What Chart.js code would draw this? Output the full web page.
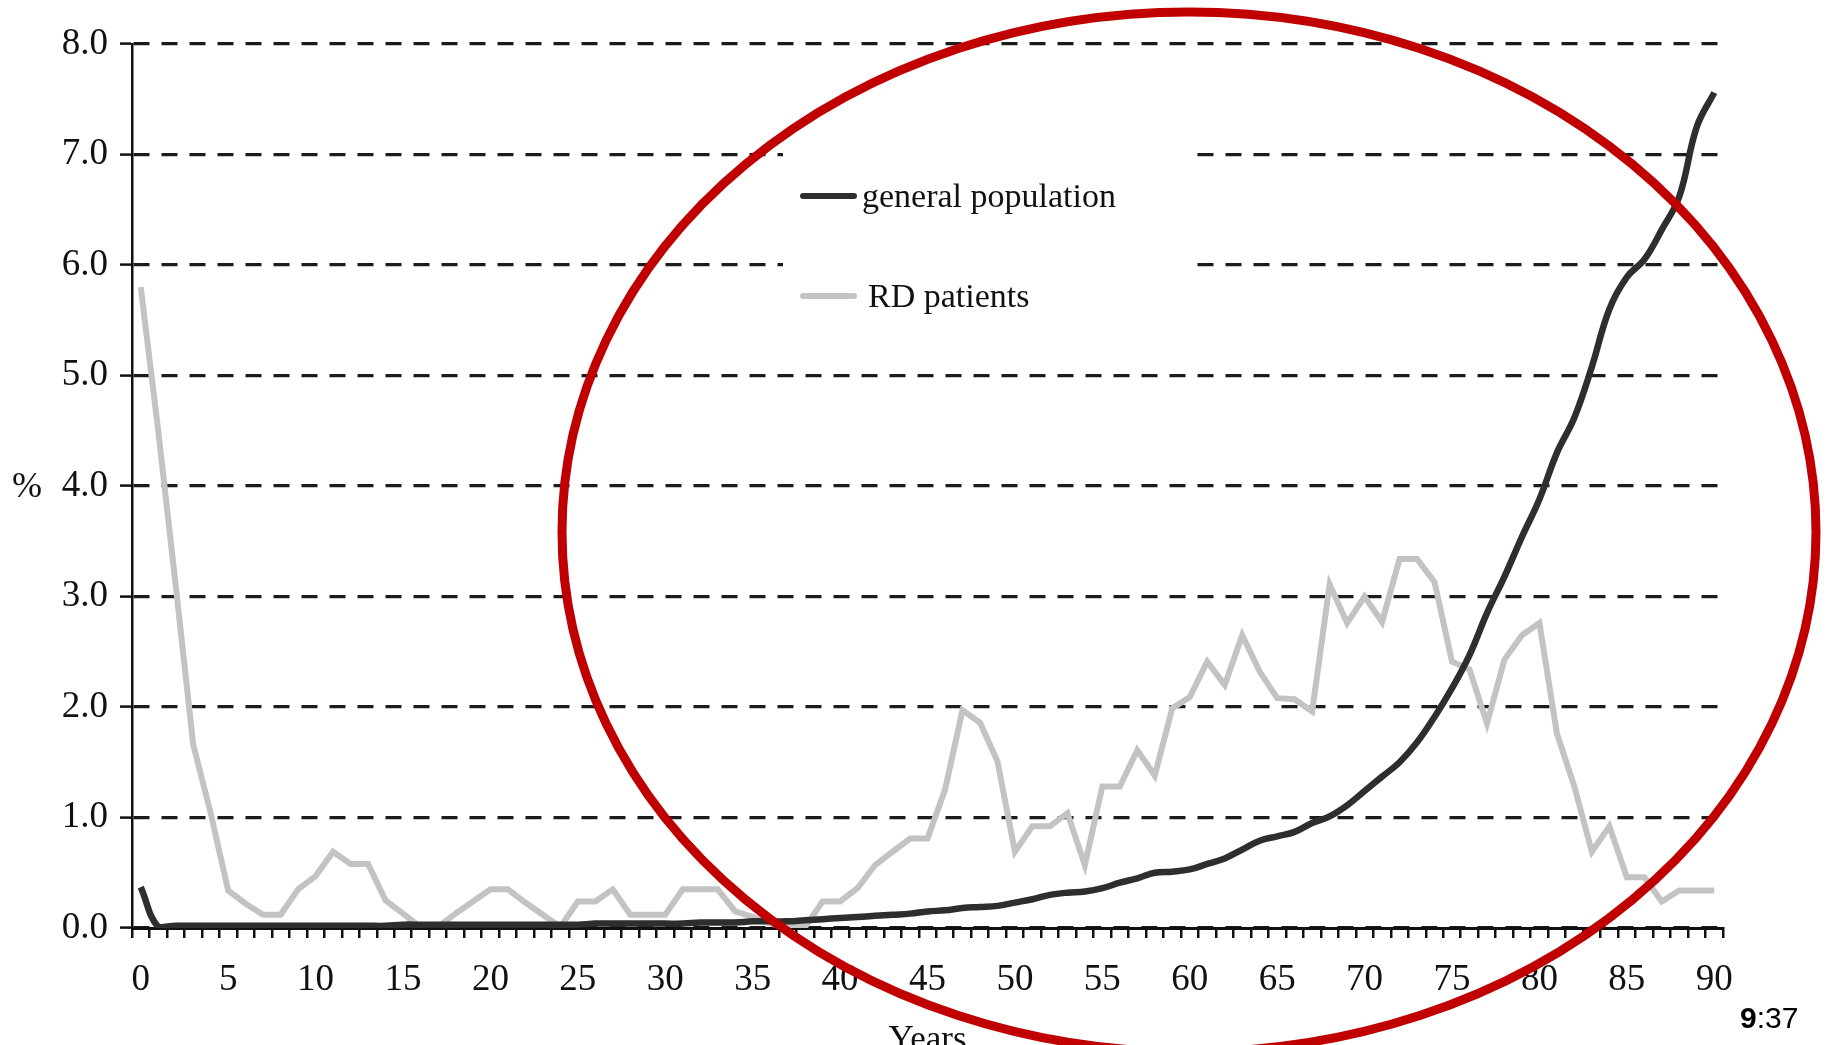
<!DOCTYPE html>
<html>
<head>
<meta charset="utf-8">
<script src="https://cdn.jsdelivr.net/npm/chart.js@4.4.0/dist/chart.umd.min.js"></script>
<style>
  html, body { margin: 0; padding: 0; background: #fff; overflow: hidden; }
  #wrap { width: 1831px; height: 1070px; }
</style>
</head>
<body>
<div id="wrap"><canvas id="myChart" width="1831" height="1070"></canvas></div>
<script>
// age in years
const years = [
  0, 1, 2, 3, 4, 5, 6, 7, 8, 9, 10, 11, 12, 13, 14, 15, 16, 17, 18, 19,
  20, 21, 22, 23, 24, 25, 26, 27, 28, 29, 30, 31, 32, 33, 34, 35, 36, 37, 38, 39,
  40, 41, 42, 43, 44, 45, 46, 47, 48, 49, 50, 51, 52, 53, 54, 55, 56, 57, 58, 59,
  60, 61, 62, 63, 64, 65, 66, 67, 68, 69, 70, 71, 72, 73, 74, 75, 76, 77, 78, 79,
  80, 81, 82, 83, 84, 85, 86, 87, 88, 89, 90
];
const generalPopulation = [
  0.37, 0.01, 0.02, 0.02, 0.02, 0.02, 0.02, 0.02, 0.02, 0.02,
  0.02, 0.02, 0.02, 0.02, 0.02, 0.03, 0.03, 0.03, 0.03, 0.03,
  0.03, 0.03, 0.03, 0.03, 0.03, 0.03, 0.04, 0.04, 0.04, 0.04,
  0.04, 0.04, 0.05, 0.05, 0.05, 0.06, 0.06, 0.06, 0.07, 0.08,
  0.09, 0.10, 0.11, 0.12, 0.13, 0.15, 0.16, 0.18, 0.19, 0.20,
  0.23, 0.26, 0.30, 0.32, 0.33, 0.36, 0.41, 0.45, 0.50, 0.51,
  0.53, 0.58, 0.63, 0.71, 0.79, 0.83, 0.87, 0.95, 1.01, 1.11,
  1.24, 1.37, 1.50, 1.68, 1.91, 2.17, 2.47, 2.85, 3.18, 3.54,
  3.88, 4.30, 4.62, 5.08, 5.60, 5.89, 6.05, 6.32, 6.62, 7.25,
  7.56
];
const rdPatients = [
  5.80, 4.50, 3.10, 1.66, 1.04, 0.34, 0.22, 0.12, 0.12, 0.35,
  0.47, 0.69, 0.58, 0.58, 0.25, 0.13, 0.01, 0.01, 0.13, 0.24,
  0.35, 0.35, 0.23, 0.12, 0.01, 0.24, 0.24, 0.35, 0.12, 0.12,
  0.12, 0.35, 0.35, 0.35, 0.15, 0.10, 0.04, 0.01, 0.01, 0.24,
  0.24, 0.36, 0.57, 0.69, 0.81, 0.81, 1.25, 1.97, 1.86, 1.51,
  0.69, 0.92, 0.92, 1.04, 0.57, 1.28, 1.28, 1.61, 1.38, 1.99,
  2.09, 2.41, 2.20, 2.65, 2.32, 2.08, 2.07, 1.96, 3.11, 2.76,
  3.00, 2.77, 3.34, 3.34, 3.13, 2.41, 2.34, 1.85, 2.43, 2.65,
  2.76, 1.76, 1.28, 0.69, 0.92, 0.46, 0.46, 0.24, 0.34, 0.34,
  0.34
];
const seriesNames = ['general population', 'RD patients'];

const serif = "'Liberation Serif', 'Times New Roman', serif";

// legend box inside the plot, white background breaks the gridlines
const insideLegend = {
  id: 'insideLegend',
  afterDatasetsDraw(chart) {
    const c = chart.ctx;
    c.save();
    c.fillStyle = '#fff';
    c.fillRect(783, 118, 410, 215);
    const rows = [
      { y: 196, tx: 862 },
      { y: 296, tx: 868 }
    ];
    chart.data.datasets.forEach((ds, i) => {
      const r = rows[i];
      c.strokeStyle = ds.borderColor;
      c.lineWidth = 6;
      c.lineCap = 'round';
      c.beginPath();
      c.moveTo(803, r.y);
      c.lineTo(854, r.y);
      c.stroke();
      c.fillStyle = '#111';
      c.font = '34px ' + serif;
      c.textBaseline = 'middle';
      c.textAlign = 'left';
      c.fillText(ds.label, r.tx, r.y + 2);
    });
    c.restore();
  }
};

// "%" label, red hand-drawn ellipse and time stamp
const overlay = {
  id: 'overlay',
  afterDraw(chart) {
    const c = chart.ctx;
    c.save();
    c.fillStyle = '#111';
    c.font = '36px ' + serif;
    c.textBaseline = 'middle';
    c.textAlign = 'left';
    c.fillText('%', 12, 488);

    c.strokeStyle = '#c00000';
    c.lineWidth = 9;
    c.beginPath();
    c.ellipse(1189, 532, 627, 520, 0, 0, Math.PI * 2);
    c.stroke();

    c.fillStyle = '#000';
    c.textBaseline = 'alphabetic';
    c.font = "bold 30px 'Liberation Sans', Arial, sans-serif";
    c.fillText('9', 1740, 1028);
    const w = c.measureText('9').width;
    c.font = "30px 'Liberation Sans', Arial, sans-serif";
    c.fillText(':37', 1740 + w, 1028);
    c.restore();
  }
};

const ctx = document.getElementById('myChart');
const myChart = new Chart(ctx, {
  type: 'line',
  data: {
    labels: years,
    datasets: [
      {
        label: seriesNames[0],
        data: generalPopulation,
        borderColor: '#2e2e2e',
        borderWidth: 6.5,
        pointRadius: 0,
        tension: 0.4,
        fill: false
      },
      {
        label: seriesNames[1],
        data: rdPatients,
        borderColor: '#c3c3c3',
        borderWidth: 6,
        pointRadius: 0,
        tension: 0,
        fill: false
      }
    ]
  },
  options: {
    responsive: false,
    animation: false,
    devicePixelRatio: 1,
    layout: { padding: { left: 0, right: 108, top: 44, bottom: 0 } },
    plugins: {
      legend: { display: false },
      title: { display: false },
      tooltip: { enabled: false }
    },
    scales: {
      x: {
        type: 'category',
        offset: true,
        grid: {
          display: true,
          offset: true,
          drawOnChartArea: false,
          drawTicks: true,
          tickLength: 10,
          color: '#111',
          lineWidth: 2.5
        },
        border: { display: true, color: '#111', width: 3 },
        ticks: {
          autoSkip: false,
          maxRotation: 0,
          minRotation: 0,
          padding: 20,
          color: '#111',
          font: { family: serif, size: 37 },
          callback: function(val, i) { return i % 5 === 0 ? String(years[i]) : ''; }
        },
        title: {
          display: true,
          text: 'Years',
          color: '#111',
          font: { family: serif, size: 35 },
          padding: { top: 0, bottom: 8 }
        },
        afterFit: function(scale) { scale.height = 142; }
      },
      y: {
        min: 0,
        max: 8,
        grid: {
          color: '#1c1c1c',
          lineWidth: 3.2,
          drawTicks: true,
          tickLength: 12,
          tickColor: '#111',
          tickWidth: 2.5
        },
        border: { display: true, color: '#111', width: 2.5, dash: [16, 12] },
        ticks: {
          stepSize: 1,
          padding: 12,
          color: '#111',
          font: { family: serif, size: 37 },
          callback: function(v) { return v.toFixed(1); }
        },
        afterFit: function(scale) { scale.width = 132; }
      }
    }
  },
  plugins: [insideLegend, overlay]
});
</script>
</body>
</html>
